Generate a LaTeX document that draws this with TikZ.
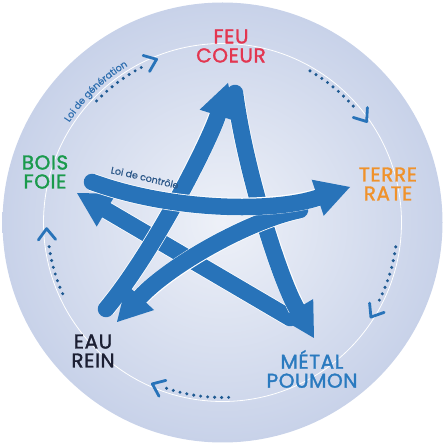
\documentclass[tikz,border=0pt]{standalone}
\usepackage{fontspec}
\setmainfont{Poppins}
\newfontfamily\labfont{Poppins}[FakeBold=1.6, LetterSpace=3]
\newfontfamily\smallfont{Poppins}[FakeBold=0.6]
\usetikzlibrary{arrows.meta,decorations.text}
\definecolor{bgin}{HTML}{EEF1F8}
\definecolor{bgout}{HTML}{C8D2E9}
\definecolor{starblue}{HTML}{2873B9}
\definecolor{feured}{HTML}{E33650}
\definecolor{terreor}{HTML}{F0922B}
\definecolor{boisgr}{HTML}{1A9A4C}
\definecolor{eaunavy}{HTML}{1C1F33}
\definecolor{metalbl}{HTML}{2A7ABF}
\definecolor{dotblue}{HTML}{1F5A92}
\definecolor{genblue}{HTML}{2F6FB0}
\definecolor{ctrlblue}{HTML}{2B5788}
\tikzset{
  stk/.style={draw=starblue, line width=16.5pt, line cap=round,
    preaction={draw=white, line width=18pt, arrows=-, shorten >=28pt},
    -{Triangle[length=34pt,width=38pt,line width=0pt]}},
  dotarc/.style={draw=dotblue, line width=3.4pt, line cap=round, dash pattern=on 0pt off 7pt},
  chevst/.style={draw=starblue, line width=2.8pt, line cap=round, line join=round},
  elem/.style={align=center, font=\labfont\fontsize{20}{19}\selectfont},
}
\begin{document}
\begin{tikzpicture}[x=1pt,y=1pt]
\useasboundingbox (0,0) rectangle (445,445);
\fill[white] (0,0) rectangle (445,445);
\coordinate (C) at (222.5,222.5);
\shade[inner color=bgin, outer color=bgout] (C) circle (220);
\draw[white, line width=0.8pt] (C) circle (179);

% generation cycle (dotted arcs with open chevrons)
\foreach \a/\b/\tipang in {136/117/112, 60/40/35, -8/-28/-32.5, -88/-110/-113.5, 204/186/182}{
  \draw[dotarc] ([shift={(\a:175)}]C) arc (\a:\b:175);
  \coordinate (tip) at ([shift={(\tipang:176)}]C);
  \draw[chevst] ([shift={(\tipang+128:14)}]tip) -- (tip) -- ([shift={(\tipang+52:14)}]tip);
}
\path[decorate, decoration={text along path, text align=center,
  text={|\smallfont\fontsize{9.5}{9.5}\selectfont\color{genblue}|Loi de génération}}]
  ([shift={(164:183)}]C) arc (164:104:183);

% star coordinates (tails t, heads h)
\coordinate (t1) at (106,136); \coordinate (h1) at (228,362);
\coordinate (t2) at (235,352); \coordinate (h2) at (314,107);
\coordinate (t3) at (290,127); \coordinate (h3) at (77,252);
\coordinate (t4) at (92,263);  \coordinate (h4) at (350,258);
\coordinate (t5) at (300,235); \coordinate (h5) at (117,123);

% control cycle (star)
\draw[stk] (t3) -- (h3);
\draw[stk] (t2) .. controls (245,275) and (280,165) .. (h2);
\draw[stk] (t1) .. controls (155,195) and (210,305) .. (h1);
\draw[stk] (t5) .. controls (250,225) and (170,180) .. (h5);
\draw[stk] (t4) .. controls (175,233) and (275,233) .. (h4);

\path[decorate, decoration={text along path, text align=center,
  text={|\smallfont\fontsize{9.5}{9.5}\selectfont\color{ctrlblue}|Loi de contrôle}}]
  (98,274) .. controls (128,269) and (160,260) .. (190,253);

% labels
\node[elem, text=feured]  (feu)   at (231,399) {FEU\\COEUR};
\node[elem, text=terreor] (terre) at (388,261) {TERRE\\RATE};
\node[elem, text=boisgr]  (bois)  at (45,273)  {BOIS\\FOIE};
\node[elem, text=eaunavy] (eau)   at (93,94)   {EAU\\REIN};
\node[elem, text=metalbl] (metal) at (312,76)  {MÉTAL\\POUMON};
\end{tikzpicture}
\end{document}
